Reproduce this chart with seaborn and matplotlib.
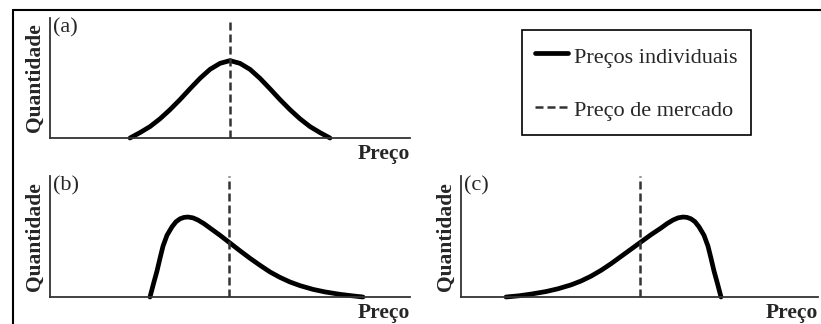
import matplotlib.pyplot as plt
import seaborn as sns
from matplotlib.lines import Line2D

# Valores (preço em unidades arbitrárias 0-36, quantidade 0-1)
preco_a = [8, 9, 10, 11, 12, 13, 14, 15, 16, 17, 18, 19, 20, 21, 22, 23, 24, 25, 26, 27, 28]
qtd_a = [0.0, 0.045, 0.095, 0.16, 0.236, 0.32, 0.41, 0.497, 0.572, 0.622, 0.645,
         0.622, 0.572, 0.497, 0.41, 0.32, 0.236, 0.16, 0.095, 0.045, 0.0]

preco_b = [10.0, 10.35, 10.7, 11.0, 11.3, 11.7, 12.2, 12.6, 13.0, 13.4, 13.8, 14.3, 14.8, 15.4,
           16.0, 17.0, 18.0, 19.0, 20.0, 21.0, 22.0, 23.0, 24.0, 25.0, 26.3, 27.5, 29.0, 30.2, 31.3]
qtd_b = [0.0, 0.11, 0.215, 0.32, 0.42, 0.51, 0.58, 0.622, 0.646, 0.658, 0.661, 0.654, 0.636, 0.606,
         0.57, 0.51, 0.446, 0.382, 0.32, 0.262, 0.207, 0.162, 0.124, 0.094, 0.063, 0.042, 0.022, 0.01, 0.0]

preco_c = [4.5, 5.8, 7.0, 8.5, 9.7, 11.0, 12.0, 13.0, 14.0, 15.0, 16.0, 17.0, 18.0, 19.0, 20.0,
           20.6, 21.2, 21.7, 22.2, 22.6, 23.0, 23.4, 23.8, 24.3, 24.7, 25.0, 25.3, 25.65, 26.0]
qtd_c = [0.0, 0.01, 0.024, 0.045, 0.068, 0.1, 0.132, 0.172, 0.22, 0.275, 0.335, 0.395, 0.455, 0.515,
         0.57, 0.606, 0.636, 0.654, 0.661, 0.658, 0.646, 0.622, 0.58, 0.51, 0.42, 0.32, 0.215, 0.11, 0.0]

preco_mercado = [18.0, 17.9, 17.9]
paineis = ["(a)", "(b)", "(c)"]
legenda = ["Preços individuais", "Preço de mercado"]

sns.set_theme(style="white")
plt.rcParams['font.family'] = ['Liberation Serif', 'DejaVu Serif']

W, H = 821, 324
fig = plt.figure(figsize=(W / 100, H / 100), dpi=100)


def eixo_px(left, top, width, height):
    return fig.add_axes([left / W, 1 - (top + height) / H, width / W, height / H])


ax_a = eixo_px(50, 18, 360, 120)
ax_b = eixo_px(50, 176, 360, 121)
ax_c = eixo_px(461, 176, 357, 121)

dados = [(ax_a, preco_a, qtd_a, 36), (ax_b, preco_b, qtd_b, 36), (ax_c, preco_c, qtd_c, 35.7)]

for i, (ax, x, y, xmax) in enumerate(dados):
    sns.lineplot(x=x, y=y, ax=ax, color="black", linewidth=3.4, clip_on=False,
                 label=legenda[0] if i == 0 else None)
    ax.axvline(preco_mercado[i], color="#333333", linewidth=1.8, dashes=(3.2, 1.6),
               label=legenda[1] if i == 0 else None)
    ax.set_xlim(0, xmax)
    ax.set_ylim(0, 1)
    ax.set_xticks([])
    ax.set_yticks([])
    for s in ["top", "right"]:
        ax.spines[s].set_visible(False)
    for s in ["left", "bottom"]:
        ax.spines[s].set_color("#333333")
        ax.spines[s].set_linewidth(1.3)
    ax.set_ylabel("Quantidade", fontsize=15.5, fontweight="bold", labelpad=4)
    altura = ax.get_position().height * H
    ax.text(1.0, -21 / altura, "Preço", transform=ax.transAxes, ha="right", va="baseline",
            fontsize=15.5, fontweight="bold")
    ax.text(0.008, 0.995, paineis[i], transform=ax.transAxes, ha="left", va="top", fontsize=16)

handles, labels = ax_a.get_legend_handles_labels()
ax_a.get_legend().remove()
leg = fig.legend(handles, labels, loc="center", bbox_to_anchor=(636.5 / W, 1 - 82.5 / H),
                 fontsize=16, frameon=True, fancybox=False, framealpha=1, edgecolor="black",
                 handlelength=1.45, handleheight=1.3, handletextpad=0.3, labelspacing=1.28,
                 borderpad=0.6)
leg.get_frame().set_linewidth(1.2)

# moldura externa (topo e lado esquerdo)
fig.add_artist(Line2D([13 / W, 1], [1 - 10 / H, 1 - 10 / H], transform=fig.transFigure,
                      color="black", linewidth=1.5))
fig.add_artist(Line2D([13 / W, 13 / W], [0, 1 - 10 / H], transform=fig.transFigure,
                      color="black", linewidth=1.5))

fig.savefig("out.png", dpi=100)
